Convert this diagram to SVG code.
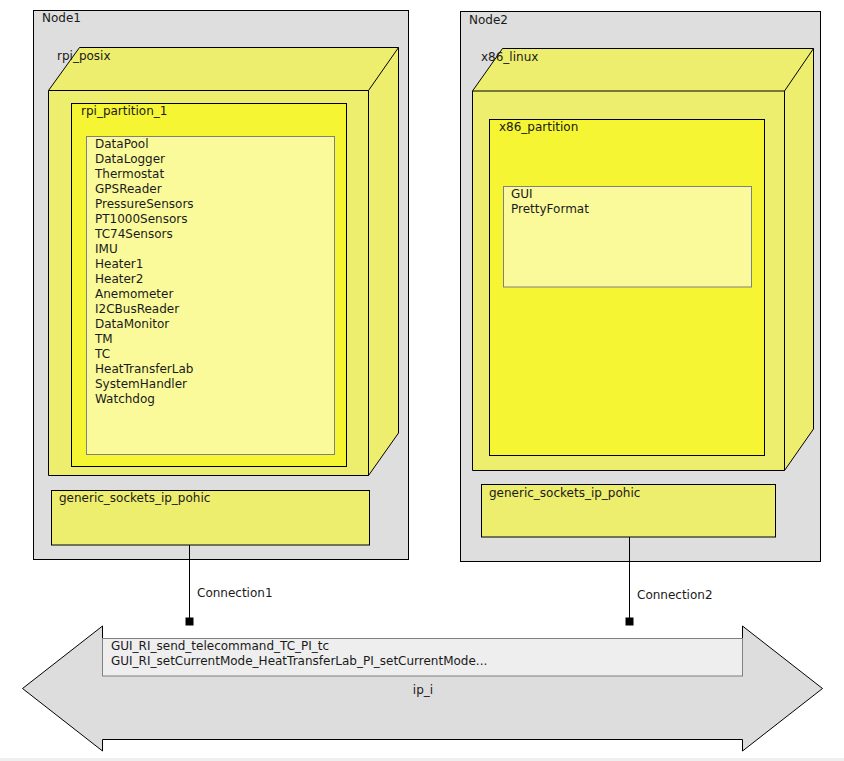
<svg xmlns="http://www.w3.org/2000/svg" width="844" height="761" viewBox="0 0 844 761">
<style>
text{font-family:"DejaVu Sans","Noto Sans",sans-serif;font-size:12px;fill:#1a1a1a}
.node{fill:#dedede;stroke:#000;stroke-width:1}
.proc{fill:#eded6e;stroke:#000;stroke-width:1}
.part{fill:#f5f533;stroke:#000;stroke-width:1}
.list{fill:#fafa9a;stroke:#808080;stroke-width:1}
.edge{fill:none;stroke:#000;stroke-width:1}
.ep{fill:#000}
</style>
<rect x="0" y="758" width="844" height="3" fill="#efefef"/>
<g id="Node1">
<rect class="node" x="33.5" y="10.5" width="375" height="549"/>
<text x="42" y="22">Node1</text>
<g id="rpi_posix">
<path class="proc" d="M48.5 90.5 L79.5 47.5 L398.5 47.5 L398.5 433 L368.5 475.5 L48.5 475.5 Z"/>
<path class="edge" d="M48.5 90.5 H368.5 V475.5 M368.5 90.5 L398.5 47.5"/>
<text x="57" y="60">rpi_posix</text>
<g id="rpi_partition_1">
<rect class="part" x="71.5" y="103.5" width="275" height="363"/>
<text x="81" y="115">rpi_partition_1</text>
<rect class="list" x="86.5" y="136.5" width="248" height="318"/>
<text x="95" y="148">DataPool</text>
<text x="95" y="163">DataLogger</text>
<text x="95" y="178">Thermostat</text>
<text x="95" y="193">GPSReader</text>
<text x="95" y="208">PressureSensors</text>
<text x="95" y="223">PT1000Sensors</text>
<text x="95" y="238">TC74Sensors</text>
<text x="95" y="253">IMU</text>
<text x="95" y="268">Heater1</text>
<text x="95" y="283">Heater2</text>
<text x="95" y="298">Anemometer</text>
<text x="95" y="313">I2CBusReader</text>
<text x="95" y="328">DataMonitor</text>
<text x="95" y="343">TM</text>
<text x="95" y="358">TC</text>
<text x="95" y="373">HeatTransferLab</text>
<text x="95" y="388">SystemHandler</text>
<text x="95" y="403">Watchdog</text>
</g>
</g>
<g id="Node1_generic_sockets_ip_pohic">
<rect class="proc" x="51.5" y="490.5" width="318" height="54.5"/>
<text x="59" y="502">generic_sockets_ip_pohic</text>
</g>
</g>
<g id="Node2">
<rect class="node" x="460.5" y="11.5" width="360" height="550"/>
<text x="469" y="24">Node2</text>
<g id="x86_linux">
<path class="proc" d="M472.5 91 L502.5 48.5 L813.5 48.5 L813.5 429 L784.5 470.5 L472.5 470.5 Z"/>
<path class="edge" d="M472.5 91 H784.5 V470.5 M784.5 91 L813.5 48.5"/>
<text x="481" y="61">x86_linux</text>
<g id="x86_partition">
<rect class="part" x="489.5" y="119.5" width="275" height="336"/>
<text x="499" y="131">x86_partition</text>
<rect class="list" x="503.5" y="186.5" width="248" height="100.5"/>
<text x="511" y="198">GUI</text>
<text x="511" y="213">PrettyFormat</text>
</g>
</g>
<g id="Node2_generic_sockets_ip_pohic">
<rect class="proc" x="481.5" y="484.5" width="294" height="52.5"/>
<text x="489" y="497">generic_sockets_ip_pohic</text>
</g>
</g>
<g id="ip_i">
<polygon points="22.5,688.5 102.5,626 102.5,638.5 742.5,638.5 742.5,626 822.5,688.5 742.5,751 742.5,739.5 102.5,739.5 102.5,751" fill="#dddddd" stroke="#000" stroke-width="1"/>
<rect x="102.5" y="638.5" width="640" height="37.5" fill="#eeeeee" stroke="#808080" stroke-width="1"/>
<text x="111" y="650">GUI_RI_send_telecommand_TC_PI_tc</text>
<text x="111" y="665">GUI_RI_setCurrentMode_HeatTransferLab_PI_setCurrentMode...</text>
<text x="423" y="694" text-anchor="middle">ip_i</text>
</g>
<g id="connectors">
<g id="Connection1">
<path class="edge" d="M189.5 545 V621"/>
<rect class="ep" x="185.5" y="617.5" width="8" height="8"/>
<text x="197" y="597">Connection1</text>
</g>
<g id="Connection2">
<path class="edge" d="M629.5 537 V621"/>
<rect class="ep" x="625.5" y="617.5" width="8" height="8"/>
<text x="637" y="599">Connection2</text>
</g>
</g>
</svg>
